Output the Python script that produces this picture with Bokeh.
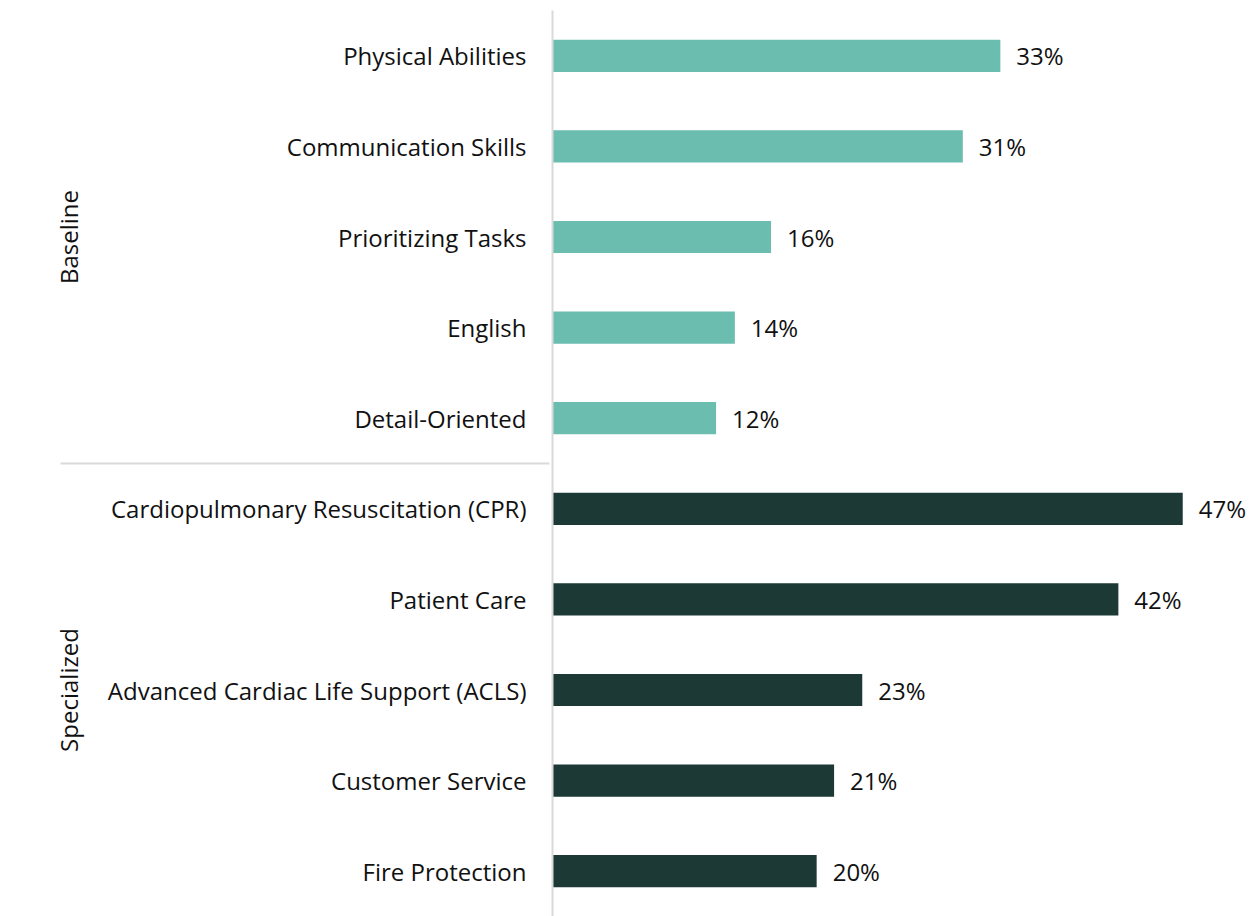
from bokeh.plotting import figure
from bokeh.models import FactorRange, Range1d, ColumnDataSource
from bokeh.core.properties import value
from bokeh.embed import file_html
from bokeh.resources import INLINE

groups = ["Baseline"] * 5 + ["Specialized"] * 5
skills = ["Physical Abilities", "Communication Skills", "Prioritizing Tasks", "English",
          "Detail-Oriented", "Cardiopulmonary Resuscitation (CPR)", "Patient Care",
          "Advanced Cardiac Life Support (ACLS)", "Customer Service", "Fire Protection"]
values = [33.4, 30.6, 16.3, 13.6, 12.2, 47.0, 42.2, 23.1, 21.0, 19.7]
value_labels = ["33%", "31%", "16%", "14%", "12%", "47%", "42%", "23%", "21%", "20%"]
group_colors = {"Baseline": "#6BBEAF", "Specialized": "#1C3935"}

FONT = "Open Sans"
factors = list(zip(groups, skills))
src = ColumnDataSource(dict(
    y=factors, v=values, lab=value_labels,
    color=[group_colors[g] for g in groups],
))

y_range = FactorRange(*reversed(factors), factor_padding=0, group_padding=0, range_padding=0)

p = figure(width=1260, height=916, y_range=y_range, x_range=Range1d(0, 52.8),
           output_backend="svg", toolbar_location=None,
           min_border_left=552, min_border_right=0, min_border_top=10, min_border_bottom=0)

p.hbar(y="y", left=0, right="v", height=0.355, color="color", line_color=None, source=src)
p.text(x="v", y="y", text="lab", x_offset=16, text_baseline="middle", text_align="left",
       text_font=value(FONT), text_font_size="24px", text_color="#111111", source=src)

p.xaxis.visible = False
p.xgrid.visible = False
p.ygrid.visible = False
p.outline_line_color = None

ax = p.yaxis[0]
ax.axis_line_color = "#d9d9d9"
ax.axis_line_width = 2
ax.major_tick_line_color = None
ax.minor_tick_line_color = None
ax.major_label_standoff = 20
ax.major_label_text_font = FONT
ax.major_label_text_font_size = "24px"
ax.major_label_text_color = "#111111"
ax.group_text_font = FONT
ax.group_text_font_size = "24px"
ax.group_text_font_style = "normal"
ax.group_text_color = "#111111"
ax.separator_line_color = "#d9d9d9"
ax.separator_line_width = 2

open("out.html", "w").write(file_html(p, INLINE))
